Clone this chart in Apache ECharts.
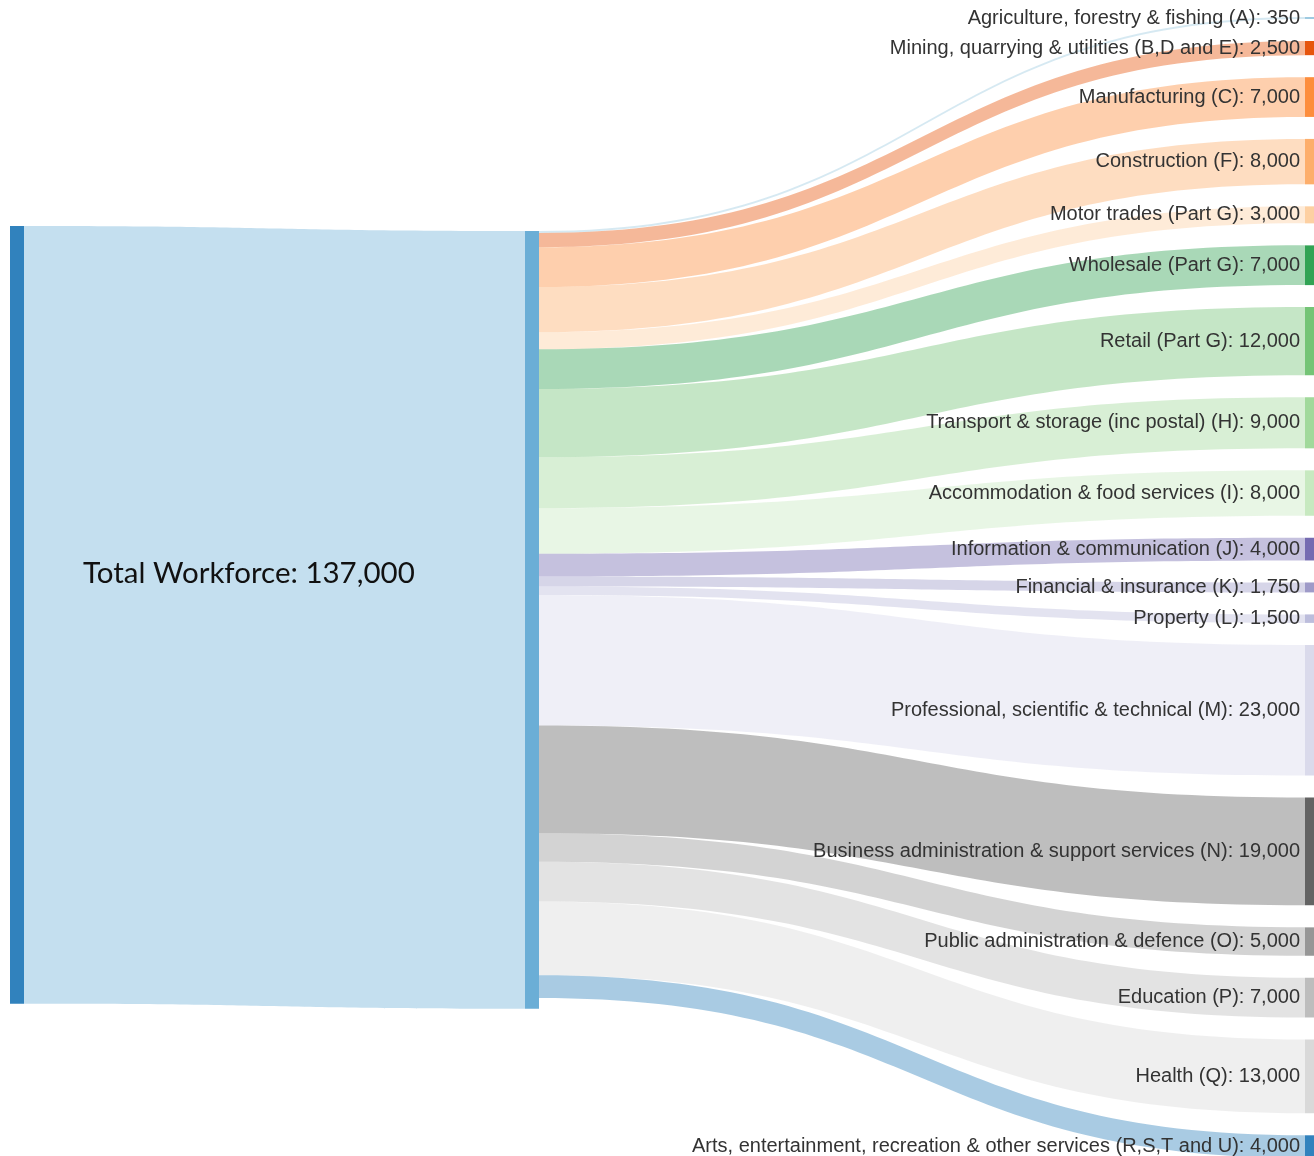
<!DOCTYPE html>
<html>
<head>
<meta charset="utf-8">
<script src="https://cdn.jsdelivr.net/npm/echarts@6/dist/echarts.min.js"></script>
<style>
  html, body { margin: 0; padding: 0; background: #ffffff; }
  #chart { width: 1314px; height: 1156px; }
</style>
</head>
<body>
<div id="chart"></div>
<script>
// ---- data ----
const totalLabel = 'Total Workforce';
const totalValue = 137000;
const hubName = 'Workforce';
const sectors = [
  'Agriculture, forestry & fishing (A)',
  'Mining, quarrying & utilities (B,D and E)',
  'Manufacturing (C)',
  'Construction (F)',
  'Motor trades (Part G)',
  'Wholesale (Part G)',
  'Retail (Part G)',
  'Transport & storage (inc postal) (H)',
  'Accommodation & food services (I)',
  'Information & communication (J)',
  'Financial & insurance (K)',
  'Property (L)',
  'Professional, scientific & technical (M)',
  'Business administration & support services (N)',
  'Public administration & defence (O)',
  'Education (P)',
  'Health (Q)',
  'Arts, entertainment, recreation & other services (R,S,T and U)'
];
const workers = [350, 2500, 7000, 8000, 3000, 7000, 12000, 9000, 8000, 4000, 1750, 1500, 23000, 19000, 5000, 7000, 13000, 4000];

// ---- styles ----
const sectorColors = ['#9ecae1', '#e6550d', '#fd8d3c', '#fdae6b', '#fdd0a2', '#31a354', '#74c476', '#a1d99b', '#c7e9c0',
  '#756bb1', '#9e9ac8', '#bcbddc', '#dadaeb', '#636363', '#969696', '#bdbdbd', '#d9d9d9', '#3182bd'];
const totalColor = '#3182bd';
const hubColor = '#6baed6';

const fmt = v => Number(v).toLocaleString('en-US');

// layout box (pixels)
const boxLeft = 10, boxTop = 17, boxWidth = 1309, boxHeight = 1141;

const nodes = [
  {
    name: totalLabel, value: totalValue,
    localY: (226 - boxTop) / boxHeight,
    itemStyle: { color: totalColor },
    label: {
      show: true,
      position: [73, 347],
      align: 'left',
      verticalAlign: 'middle',
      fontFamily: 'Lato, "Open Sans", sans-serif',
      fontSize: 29.5,
      color: '#111111',
      formatter: p => p.name + ': ' + fmt(p.value)
    }
  },
  {
    name: hubName, value: totalValue,
    localX: (525 - boxLeft) / boxWidth,
    localY: (231 - boxTop) / boxHeight,
    itemStyle: { color: hubColor },
    label: { show: false }
  }
].concat(sectors.map((s, i) => ({
  name: s, value: workers[i], itemStyle: { color: sectorColors[i] }
})));

const links = [{ source: totalLabel, target: hubName, value: totalValue, lineStyle: { opacity: 0.4 } }]
  .concat(sectors.map((s, i) => ({ source: hubName, target: s, value: workers[i] })));

const chart = echarts.init(document.getElementById('chart'), null, { renderer: 'canvas' });
chart.setOption({
  backgroundColor: '#ffffff',
  animation: false,
  series: [{
    type: 'sankey',
    left: boxLeft, top: boxTop, width: boxWidth, height: boxHeight,
    nodeWidth: 14,
    nodeGap: 22,
    layoutIterations: 0,
    draggable: false,
    emphasis: { disabled: true },
    itemStyle: { borderWidth: 0 },
    lineStyle: { color: 'target', opacity: 0.42, curveness: 0.5 },
    label: {
      show: true,
      position: 'left',
      distance: 5,
      fontFamily: '"Liberation Sans", Arial, sans-serif',
      fontSize: 20,
      color: '#333333',
      formatter: p => p.name + ': ' + fmt(p.value)
    },
    data: nodes,
    links: links
  }]
});
</script>
</body>
</html>
